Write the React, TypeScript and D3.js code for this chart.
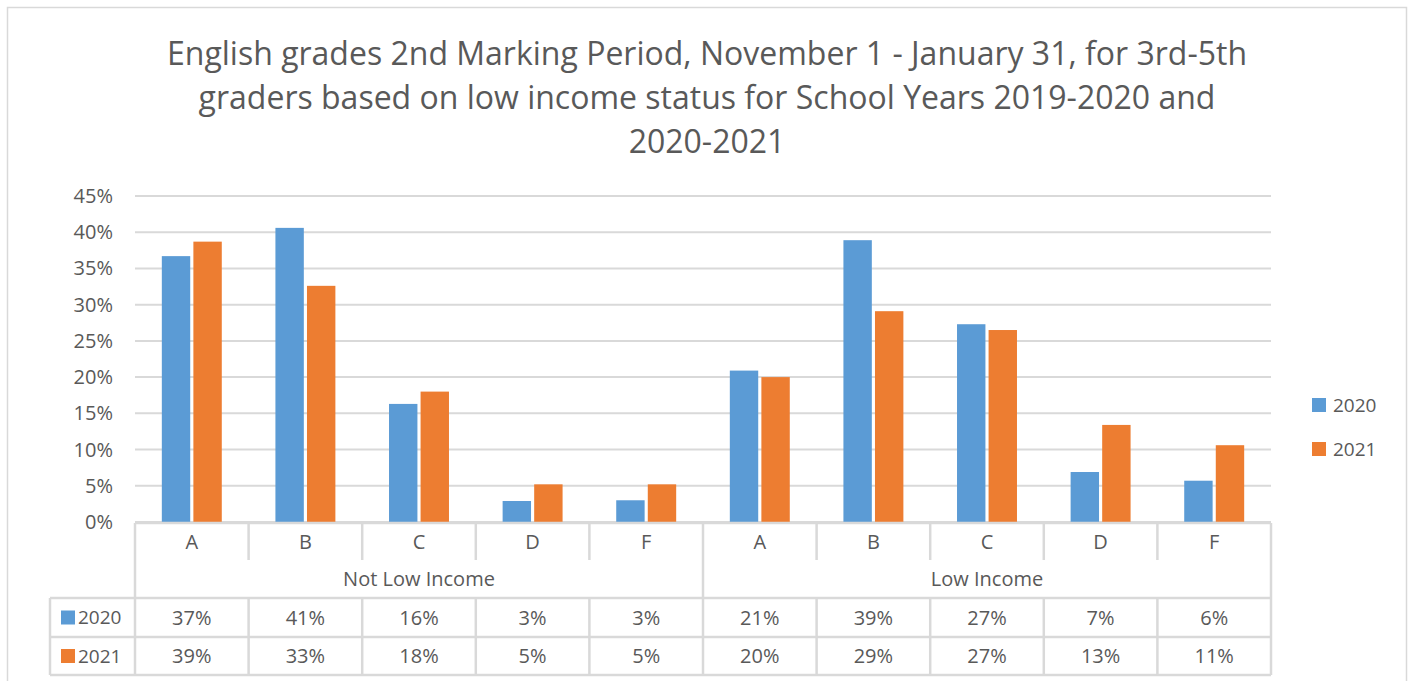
import * as d3 from "d3";
import { useEffect, useRef } from "react";

// Chart data
const grades = ["A", "B", "C", "D", "F"];
const groups = ["Not Low Income", "Low Income"];
const seriesNames = ["2020", "2021"];
const values2020 = [36.7, 40.6, 16.3, 2.9, 3.0, 20.9, 38.9, 27.3, 6.9, 5.7];
const values2021 = [38.7, 32.6, 18.0, 5.2, 5.2, 20.0, 29.1, 26.5, 13.4, 10.6];
const yTicks = [0, 5, 10, 15, 20, 25, 30, 35, 40, 45];
const titleLines = [
  "English grades 2nd Marking Period, November 1 - January 31, for 3rd-5th",
  "graders based on low income status for School Years 2019-2020 and",
  "2020-2021",
];

const colors = ["#5B9BD5", "#ED7D31"];
const textColor = "#595959";
const gridColor = "#D9D9D9";
const font = "'Open Sans', 'Noto Sans', sans-serif";
const labelSize = 20;

const App = () => {
  const ref = useRef<SVGSVGElement>(null);

  useEffect(() => {
    if (!ref.current) return;
    ref.current.innerHTML = "";

    const width = 1411;
    const height = 681;
    const left = 135, right = 1271, top = 196, bottom = 522;

    const svg = d3.select(ref.current)
      .attr("width", width)
      .attr("height", height)
      .style("font-family", font);

    // outer chart border
    svg.append("rect")
      .attr("x", 7.5).attr("y", 7.5)
      .attr("width", 1399).attr("height", 700)
      .attr("fill", "#fff")
      .attr("stroke", gridColor)
      .attr("stroke-width", 1.5);

    // title
    svg.append("g")
      .selectAll("text")
      .data(titleLines)
      .join("text")
      .attr("x", 707)
      .attr("y", (d, i) => 65 + i * 44)
      .attr("text-anchor", "middle")
      .attr("fill", textColor)
      .attr("font-size", 32)
      .text(d => d);

    const cats = groups.flatMap(g => grades.map(gr => `${g}|${gr}`));
    const x = d3.scaleBand().domain(cats).range([left, right]);
    const xs = d3.scaleBand().domain(seriesNames).range([0, x.bandwidth()]).paddingInner(0.1).paddingOuter(0.85);
    const y = d3.scaleLinear().domain([0, 45]).range([bottom, top]);

    // gridlines
    svg.append("g")
      .selectAll("line")
      .data(yTicks)
      .join("line")
      .attr("x1", left).attr("x2", right)
      .attr("y1", d => y(d)).attr("y2", d => y(d))
      .attr("stroke", gridColor)
      .attr("stroke-width", 2);

    // y tick labels
    svg.append("g")
      .selectAll("text")
      .data(yTicks)
      .join("text")
      .attr("x", 113)
      .attr("y", d => y(d))
      .attr("dy", "0.35em")
      .attr("text-anchor", "end")
      .attr("fill", textColor)
      .attr("font-size", labelSize)
      .text(d => `${d}%`);

    // bars
    const series = [values2020, values2021];
    series.forEach((vals, si) => {
      svg.append("g")
        .selectAll("rect")
        .data(vals)
        .join("rect")
        .attr("x", (d, i) => x(cats[i]) + xs(seriesNames[si]))
        .attr("width", xs.bandwidth())
        .attr("y", d => y(d))
        .attr("height", d => bottom - y(d))
        .attr("fill", colors[si]);
    });

    // data table
    const rowCat = [523, 560];
    const rowGroup = [560, 598];
    const rows = [[598, 637], [637, 675]];
    const tableLeft = 50;
    const t = svg.append("g").attr("stroke", gridColor).attr("stroke-width", 2.5).attr("fill", "none");
    const hline = (x1, x2, yy) => t.append("line").attr("x1", x1).attr("x2", x2).attr("y1", yy).attr("y2", yy);
    const vline = (xx, y1, y2) => t.append("line").attr("x1", xx).attr("x2", xx).attr("y1", y1).attr("y2", y2);

    hline(left, right, rowCat[0]);
    hline(tableLeft, right, rows[0][0]);
    hline(tableLeft, right, rows[1][0]);
    hline(tableLeft, right, rows[1][1]);
    vline(tableLeft, rows[0][0], rows[1][1]);
    vline(left, rowCat[0], rows[1][1]);
    vline(right, rowCat[0], rows[1][1]);
    vline(x(cats[5]), rowCat[0], rows[1][1]);
    cats.forEach((c, i) => {
      if (i === 0 || i === 5) return;
      vline(x(c), rowCat[0], rowCat[1]);
      vline(x(c), rows[0][0], rows[1][1]);
    });

    // category labels
    svg.append("g")
      .selectAll("text")
      .data(cats)
      .join("text")
      .attr("x", d => x(d) + x.bandwidth() / 2)
      .attr("y", (rowCat[0] + rowCat[1]) / 2)
      .attr("dy", "0.35em")
      .attr("text-anchor", "middle")
      .attr("fill", textColor)
      .attr("font-size", labelSize)
      .text(d => d.split("|")[1]);

    // group labels
    svg.append("g")
      .selectAll("text")
      .data(groups)
      .join("text")
      .attr("x", (d, i) => x(cats[i * 5]) + x.bandwidth() * 2.5)
      .attr("y", (rowGroup[0] + rowGroup[1]) / 2)
      .attr("dy", "0.35em")
      .attr("text-anchor", "middle")
      .attr("fill", textColor)
      .attr("font-size", labelSize)
      .text(d => d);

    // table rows
    series.forEach((vals, si) => {
      const [r0, r1] = rows[si];
      const g = svg.append("g");
      g.append("rect")
        .attr("x", 61).attr("y", (r0 + r1) / 2 - 7)
        .attr("width", 14).attr("height", 14)
        .attr("fill", colors[si]);
      g.append("text")
        .attr("x", 78).attr("y", (r0 + r1) / 2)
        .attr("dy", "0.35em")
        .attr("fill", textColor)
        .attr("font-size", 19)
        .text(seriesNames[si]);
      g.selectAll("text.v")
        .data(vals)
        .join("text")
        .attr("class", "v")
        .attr("x", (d, i) => x(cats[i]) + x.bandwidth() / 2)
        .attr("y", (r0 + r1) / 2)
        .attr("dy", "0.35em")
        .attr("text-anchor", "middle")
        .attr("fill", textColor)
        .attr("font-size", labelSize)
        .text(d => `${Math.round(d)}%`);
    });

    // legend
    const legend = svg.append("g");
    seriesNames.forEach((s, i) => {
      const cy = 405 + i * 44;
      legend.append("rect")
        .attr("x", 1312).attr("y", cy - 7)
        .attr("width", 14).attr("height", 14)
        .attr("fill", colors[i]);
      legend.append("text")
        .attr("x", 1333).attr("y", cy)
        .attr("dy", "0.35em")
        .attr("fill", textColor)
        .attr("font-size", 19)
        .text(s);
    });
  }, []);

  return (
    <div style={{ position: "absolute", left: 0, top: 0 }}>
      <svg ref={ref} style={{ display: "block" }} />
    </div>
  );
};

export default App;
